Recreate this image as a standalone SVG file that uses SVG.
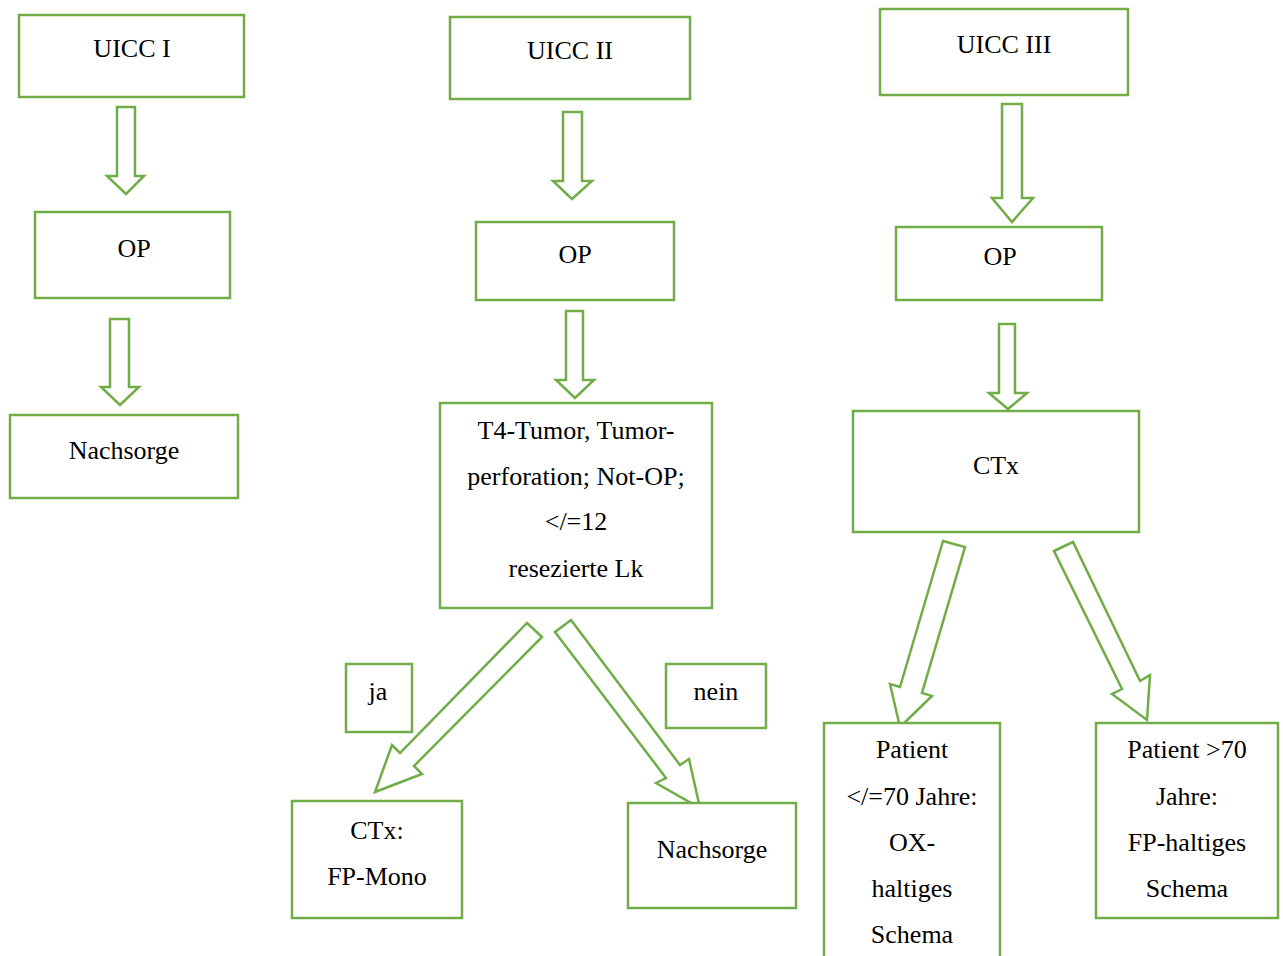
<svg xmlns="http://www.w3.org/2000/svg" width="1283" height="956" viewBox="0 0 1283 956">
<style>
.box{fill:#fff;stroke:#70AD47;stroke-width:2.5}
.arr{fill:#fff;stroke:#70AD47;stroke-width:2.5;stroke-linejoin:miter}
text{font-family:"Liberation Serif","Times New Roman",serif;font-size:26px;fill:#000;text-anchor:middle}
</style>
<rect width="1283" height="956" fill="#fff"/>
<g id="connectors">
<polygon class="arr" points="117,107 135,107 135,176 144,176 126,194 107,176 117,176"/>
<polygon class="arr" points="110,319 129,319 129,387 139,387 120,405 101,387 110,387"/>
<polygon class="arr" points="563,112 582,112 582,181 592,181 572,199 553,181 563,181"/>
<polygon class="arr" points="566,311 583,311 583,380 594,380 575,398 556,380 566,380"/>
<polygon class="arr" points="1002,104 1022,104 1022,198 1033,198 1012,222 992,198 1002,198"/>
<polygon class="arr" points="999,324 1015,324 1015,393 1027,393 1008,409 989,393 999,393"/>
<polygon class="arr" points="527,623 542,637 414,766 422,774 375,792 392,745 400,753"/>
<polygon class="arr" points="555,632 571,620 680,765 689,759 700,808 656,783 666,778"/>
<polygon class="arr" points="943,541 965,547 922,693 932,696 900,727 890,684 900,687"/>
<polygon class="arr" points="1054,551 1073,542 1140,681 1150,675 1147,720 1112,694 1122,689"/>
</g>
<g id="uicc1"><rect class="box" x="19" y="15" width="225" height="82"/><text x="132" y="57">UICC I</text></g>
<g id="uicc2"><rect class="box" x="450" y="17" width="240" height="82"/><text x="570" y="59">UICC II</text></g>
<g id="uicc3"><rect class="box" x="880" y="9" width="248" height="86"/><text x="1004" y="53">UICC III</text></g>
<g id="op1"><rect class="box" x="35" y="212" width="195" height="86"/><text x="134" y="257">OP</text></g>
<g id="op2"><rect class="box" x="476" y="222" width="198" height="78"/><text x="575" y="263">OP</text></g>
<g id="op3"><rect class="box" x="896" y="227" width="206" height="73"/><text x="1000" y="265">OP</text></g>
<g id="nachsorge1"><rect class="box" x="10" y="415" width="228" height="83"/><text x="124" y="459">Nachsorge</text></g>
<g id="t4"><rect class="box" x="440" y="403" width="272" height="205"/>
<text x="576" y="439">T4-Tumor, Tumor-</text>
<text x="576" y="485">perforation; Not-OP;</text>
<text x="576" y="530">&lt;/=12</text>
<text x="576" y="577">resezierte Lk</text></g>
<g id="ctx3"><rect class="box" x="853" y="411" width="286" height="121"/><text x="996" y="474">CTx</text></g>
<g id="ja"><rect class="box" x="346" y="664" width="66" height="68"/><text x="378" y="700">ja</text></g>
<g id="nein"><rect class="box" x="666" y="664" width="100" height="64"/><text x="716" y="700">nein</text></g>
<g id="fpmono"><rect class="box" x="292" y="801" width="170" height="117"/><text x="377" y="839">CTx:</text><text x="377" y="885">FP-Mono</text></g>
<g id="nachsorge2"><rect class="box" x="628" y="803" width="168" height="105"/><text x="712" y="858">Nachsorge</text></g>
<g id="pat70le"><rect class="box" x="824" y="723" width="176" height="250"/>
<text x="912" y="758">Patient</text>
<text x="912" y="805">&lt;/=70 Jahre:</text>
<text x="912" y="851">OX-</text>
<text x="912" y="897">haltiges</text>
<text x="912" y="943">Schema</text></g>
<g id="pat70gt"><rect class="box" x="1096" y="723" width="182" height="195"/>
<text x="1187" y="758">Patient &gt;70</text>
<text x="1187" y="805">Jahre:</text>
<text x="1187" y="851">FP-haltiges</text>
<text x="1187" y="897">Schema</text></g>
</svg>
